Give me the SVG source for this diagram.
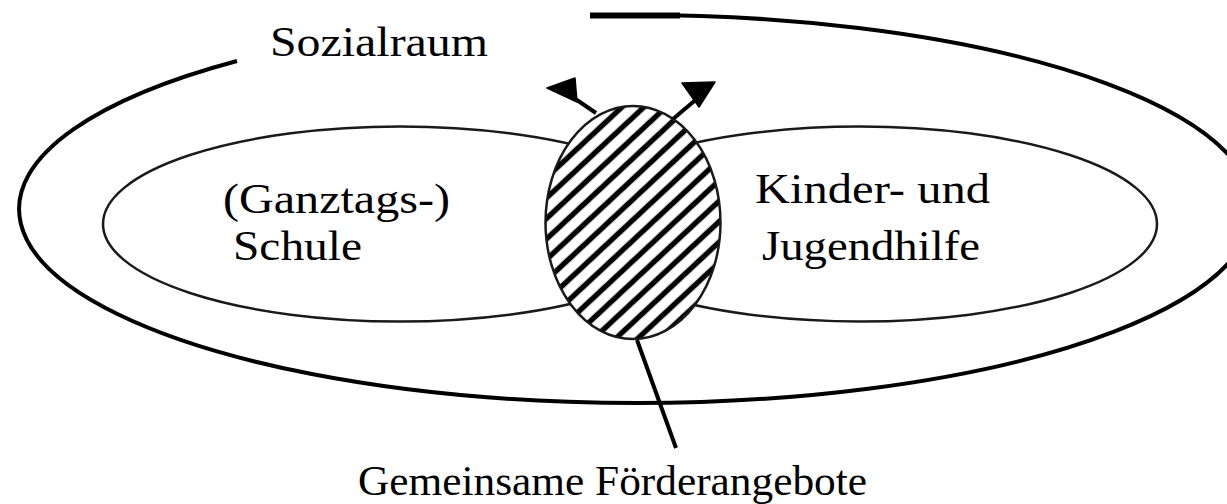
<svg xmlns="http://www.w3.org/2000/svg" width="1227" height="504" viewBox="0 0 1227 504">
<style>
.lbl{font-family:"Liberation Serif","Times New Roman",serif;font-size:42px;fill:#000}
.outer{fill:none;stroke:#000;stroke-width:4}
.inner{fill:none;stroke:#1a1a1a;stroke-width:2.5}
.conn{fill:none;stroke:#000;stroke-width:4}
.head{fill:#000;stroke:#000;stroke-width:1.5;stroke-linejoin:round}
</style>
<defs>
<pattern id="hatch" patternUnits="userSpaceOnUse" width="20" height="15" patternTransform="rotate(-43)">
<rect width="20" height="15" fill="#fff"/>
<line x1="-1" y1="7.5" x2="21" y2="7.5" stroke="#000" stroke-width="5.4"/>
</pattern>
</defs>
<rect width="1227" height="504" fill="#fff"/>
<g id="sozialraum">
<path class="outer" d="M 237 61 A 617 194 0 1 0 590 15.5"/>
<path d="M 590 15.5 L 680 15.5" stroke="#000" stroke-width="6" fill="none"/>
<text class="lbl" x="270" y="56" textLength="218" lengthAdjust="spacingAndGlyphs">Sozialraum</text>
</g>
<g id="schule">
<ellipse class="inner" cx="400" cy="224" rx="297" ry="97.5"/>
<text class="lbl" x="223" y="213" textLength="227" lengthAdjust="spacingAndGlyphs">(Ganztags-)</text>
<text class="lbl" x="233" y="260" textLength="129" lengthAdjust="spacingAndGlyphs">Schule</text>
</g>
<g id="jugendhilfe">
<ellipse class="inner" cx="860" cy="224" rx="297" ry="97.5"/>
<text class="lbl" x="755" y="203" textLength="235" lengthAdjust="spacingAndGlyphs">Kinder- und</text>
<text class="lbl" x="762" y="260" textLength="218" lengthAdjust="spacingAndGlyphs">Jugendhilfe</text>
</g>
<g id="foerderangebote">
<ellipse cx="633" cy="222.5" rx="87.5" ry="116.5" fill="#fff"/>
<ellipse cx="633" cy="222.5" rx="87.5" ry="116.5" fill="url(#hatch)" stroke="#1a1a1a" stroke-width="2.5"/>
</g>
<g id="connectors">
<line class="conn" x1="596" y1="113" x2="568" y2="94" stroke-width="3.5"/>
<polygon class="head" points="547,88 575,78 577,102"/>
<line class="conn" x1="673" y1="119" x2="699" y2="97" stroke-width="3.5"/>
<polygon class="head" points="715,82 682,83 699,107"/>
<line class="conn" x1="637" y1="340" x2="676" y2="448"/>
</g>
<g id="label-gemeinsam">
<text class="lbl" x="358" y="495" textLength="509" lengthAdjust="spacingAndGlyphs">Gemeinsame Förderangebote</text>
</g>
</svg>
